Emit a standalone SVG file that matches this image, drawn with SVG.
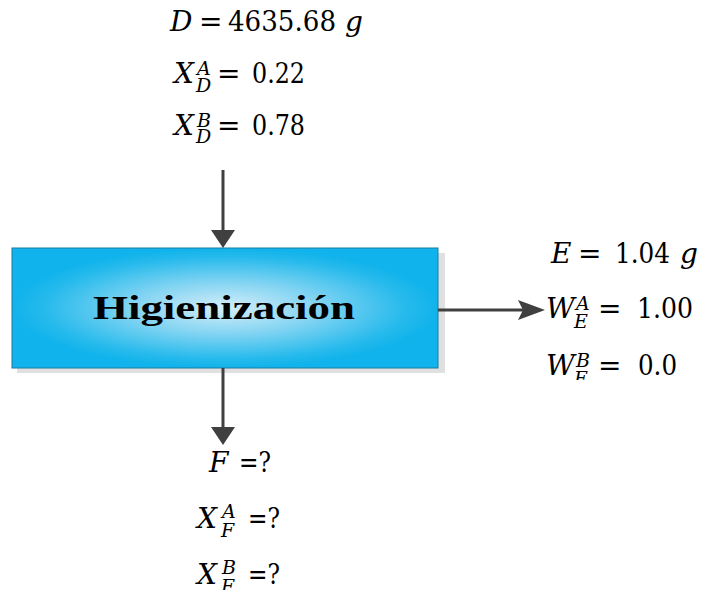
<svg xmlns="http://www.w3.org/2000/svg" width="702" height="590" viewBox="0 0 702 590">
  <style>
    .m { font-family: "DejaVu Serif", "Liberation Serif", serif; font-size: 28px; fill: #000; }
    .v { font-style: italic; }
    .s { font-size: 19px; font-style: italic; }
    .title { font-family: "Liberation Serif", "Times New Roman", serif; font-size: 34px; font-weight: bold; fill: #000; }
    .conn { stroke: #404040; stroke-width: 3; fill: none; }
  </style>
  <defs>
    <radialGradient id="boxGrad" cx="50%" cy="50%" r="50%" fx="50%" fy="50%">
      <stop offset="0" stop-color="#d6eef9"/>
      <stop offset="0.45" stop-color="#7fd3f2"/>
      <stop offset="0.85" stop-color="#26baec"/>
      <stop offset="1" stop-color="#10b3eb"/>
    </radialGradient>
    <marker id="tri" markerUnits="userSpaceOnUse" markerWidth="18" markerHeight="24" refX="8" refY="12" orient="auto">
      <path d="M0,0 L18,12 L0,24 Z" fill="#404040"/>
    </marker>
    <marker id="stealth" markerUnits="userSpaceOnUse" markerWidth="27" markerHeight="20" refX="17" refY="10" orient="auto">
      <path d="M0,0 L27,10 L0,20 L5,10 Z" fill="#404040"/>
    </marker>
    <clipPath id="clipW">
      <rect x="500" y="330" width="202" height="50"/>
    </clipPath>
  </defs>

  <g id="node-higienizacion">
    <rect x="17" y="253" width="428" height="120" fill="#e0e0e0"/>
    <rect x="12" y="248" width="426" height="120" fill="url(#boxGrad)" stroke="#1a7aa3" stroke-width="1"/>
    <text class="title" x="93" y="319" textLength="262" lengthAdjust="spacingAndGlyphs">Higienización</text>
  </g>

  <g id="connectors">
    <line class="conn" x1="223" y1="170" x2="223" y2="238" marker-end="url(#tri)"/>
    <line class="conn" x1="223" y1="368" x2="223" y2="435" marker-end="url(#tri)"/>
    <line class="conn" x1="438" y1="310" x2="535" y2="310" marker-end="url(#stealth)"/>
  </g>

  <g id="label-D">
    <text class="m"><tspan class="v" x="170" y="31">D</tspan><tspan x="199" y="31">=</tspan><tspan x="228" y="31" textLength="108" lengthAdjust="spacingAndGlyphs">4635.68</tspan><tspan class="v" x="345" y="31">g</tspan></text>
    <text class="m"><tspan class="v" x="174" y="83">X</tspan><tspan class="s" x="197" y="75">A</tspan><tspan class="s" x="196" y="92">D</tspan><tspan x="217" y="83">=</tspan><tspan x="252" y="83" textLength="53" lengthAdjust="spacingAndGlyphs">0.22</tspan></text>
    <text class="m"><tspan class="v" x="174" y="135">X</tspan><tspan class="s" x="197" y="127">B</tspan><tspan class="s" x="196" y="143">D</tspan><tspan x="217" y="135">=</tspan><tspan x="252" y="135" textLength="53" lengthAdjust="spacingAndGlyphs">0.78</tspan></text>
  </g>

  <g id="label-E">
    <text class="m"><tspan class="v" x="551" y="263">E</tspan><tspan x="578" y="263">=</tspan><tspan x="615" y="263" textLength="55" lengthAdjust="spacingAndGlyphs">1.04</tspan><tspan class="v" x="680" y="263">g</tspan></text>
    <text class="m"><tspan class="v" x="546" y="318">W</tspan><tspan class="s" x="576" y="310">A</tspan><tspan class="s" x="574" y="328">E</tspan><tspan x="598" y="318">=</tspan><tspan x="637" y="318" textLength="56" lengthAdjust="spacingAndGlyphs">1.00</tspan></text>
    <g clip-path="url(#clipW)">
      <text class="m"><tspan class="v" x="546" y="375">W</tspan><tspan class="s" x="576" y="367">B</tspan><tspan class="s" x="574" y="385">E</tspan><tspan x="598" y="375">=</tspan><tspan x="638" y="375" textLength="39" lengthAdjust="spacingAndGlyphs">0.0</tspan></text>
    </g>
  </g>

  <g id="label-F">
    <text class="m"><tspan class="v" x="209" y="472">F</tspan><tspan x="239" y="472" textLength="32" lengthAdjust="spacingAndGlyphs">=?</tspan></text>
    <text class="m"><tspan class="v" x="197" y="528">X</tspan><tspan class="s" x="222" y="518">A</tspan><tspan class="s" x="221" y="537">F</tspan><tspan x="248" y="528" textLength="32" lengthAdjust="spacingAndGlyphs">=?</tspan></text>
    <text class="m"><tspan class="v" x="197" y="584">X</tspan><tspan class="s" x="222" y="574">B</tspan><tspan class="s" x="221" y="593">F</tspan><tspan x="248" y="584" textLength="32" lengthAdjust="spacingAndGlyphs">=?</tspan></text>
  </g>
</svg>
